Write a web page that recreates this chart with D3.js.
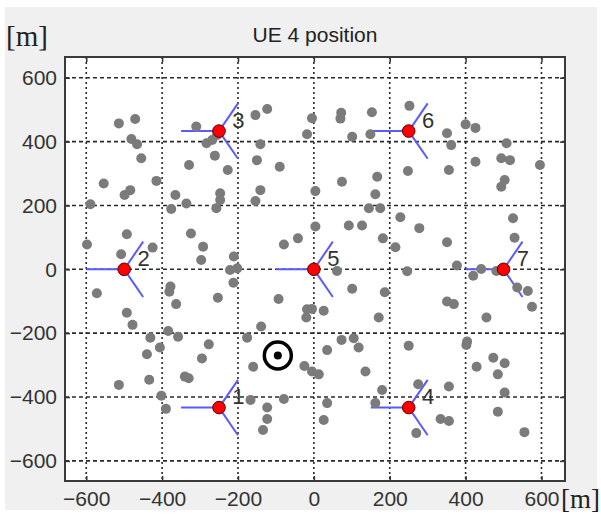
<!DOCTYPE html>
<html>
<head>
<meta charset="utf-8">
<script src="https://cdn.jsdelivr.net/npm/d3@7"></script>
<style>
body { margin: 0; background: #fff; }
text { font-family: "Liberation Sans", Arial, sans-serif; }
</style>
</head>
<body>
<div id="chart"></div>
<script>
var width = 601,
	height = 516;

// base stations (hex layout), labels 1..7
var siteLabels = ["1", "2", "3", "4", "5", "6", "7"];
var siteX = [-250, -500, -250, 250, 0, 250, 500];
var siteY = [-433, 0, 433, -433, 0, 433, 0];
var sectorAngles = [180, 60, -60];
var sectorLength = 100;

// the tracked UE
var targetX = [-95];
var targetY = [-270];

// other UEs [x, y] in metres
var ueX = [-514,-471,-481,-466,-455,-329,-554,-415,-484,-499,-589,-365,-376,-336,-493,-598,-508,-425,-324,
	-310,-283,-268,-255,-261,-227,-154,-123,-141,-150,-90,-141,-154,-247,-247,-257,-292,-297,-211,-221,-202,-212,-79,-42,-5,-18,4,
	72,70,153,101,149,252,248,74,167,162,4,145,175,228,92,127,278,182,215,246,61,
	351,362,400,426,508,356,426,494,517,596,503,494,525,529,351,377,441,420,481,536,564,575,351,369,455,404,402,473,503,429,485,356,503,485,334,356,555,
	-572,-378,-381,-363,-493,-478,-431,-384,-358,-406,-440,-434,-514,-340,-330,-402,-390,
	-253,-93,-18,-20,-139,-176,-277,-295,-160,-25,-167,-79,-123,-123,-134,
	101,187,26,-5,171,73,105,118,35,250,-5,13,136,180,162,275,35,26,270];
var ueY = [457,471,408,392,348,327,269,277,248,233,204,233,189,206,110,78,47,68,112,
	447,395,405,421,356,311,483,502,392,342,321,248,214,238,217,191,71,29,40,-2,3,-42,78,97,473,423,134,
	490,472,492,415,423,512,308,274,290,235,245,191,191,163,137,137,129,97,69,-6,-5,
	426,389,454,443,395,311,337,348,342,327,280,259,160,99,85,12,1,-20,-5,-57,-68,-117,-101,-109,-151,-226,-237,-277,-294,-305,-329,-367,-386,-446,-469,-475,-510,
	-75,-54,-70,-109,-136,-174,-214,-193,-211,-245,-266,-346,-362,-336,-341,-396,-437,
	-89,-93,-125,-151,-179,-214,-235,-279,-305,-303,-409,-406,-433,-469,-503,
	-61,-72,-130,-124,-151,-221,-216,-245,-253,-239,-320,-329,-320,-378,-419,-360,-419,-472,-513];

var xTicks = [-600, -400, -200, 0, 200, 400, 600];
var yTicks = [-600, -400, -200, 0, 200, 400, 600];
var titleText = "UE 4 position";
var unitText = "[m]";

var plotLeft = 65, plotRight = 565, plotTop = 57, plotBottom = 481;

var x = d3.scaleLinear().domain([-656, 662]).range([plotLeft, plotRight]);
var y = d3.scaleLinear().domain([-663, 665]).range([plotBottom, plotTop]);

var svg = d3.select("#chart")
	.append("svg")
	.attr("width", width)
	.attr("height", height);

// figure background
svg.append("rect")
	.attr("x", 5)
	.attr("y", 7)
	.attr("width", 592)
	.attr("height", 503)
	.attr("fill", "#f0f0f0");

// axes background
svg.append("rect")
	.attr("x", plotLeft)
	.attr("y", plotTop)
	.attr("width", plotRight - plotLeft)
	.attr("height", plotBottom - plotTop)
	.attr("fill", "#fff");

// grid
svg.selectAll(".vgrid")
	.data(xTicks)
	.enter()
	.append("line")
	.attr("class", "vgrid")
	.attr("x1", function(d) { return x(d); })
	.attr("x2", function(d) { return x(d); })
	.attr("y1", plotTop)
	.attr("y2", plotBottom)
	.attr("stroke", "#2a2a2a")
	.attr("stroke-width", 1.6)
	.attr("stroke-dasharray", "2,3");

svg.selectAll(".hgrid")
	.data(yTicks)
	.enter()
	.append("line")
	.attr("class", "hgrid")
	.attr("x1", plotLeft)
	.attr("x2", plotRight)
	.attr("y1", function(d) { return y(d); })
	.attr("y2", function(d) { return y(d); })
	.attr("stroke", "#2a2a2a")
	.attr("stroke-width", 1.6)
	.attr("stroke-dasharray", "4,3");

// axes with inward ticks on all sides
var tickLen = 5;
svg.append("g")
	.attr("transform", "translate(0," + plotBottom + ")")
	.call(d3.axisBottom(x).tickValues(xTicks).tickSizeInner(-tickLen).tickSizeOuter(0).tickPadding(10))
	.call(styleAxis);
svg.append("g")
	.attr("transform", "translate(0," + plotTop + ")")
	.call(d3.axisTop(x).tickValues(xTicks).tickSizeInner(-tickLen).tickSizeOuter(0).tickFormat(""))
	.call(styleAxis);
svg.append("g")
	.attr("transform", "translate(" + plotLeft + ",0)")
	.call(d3.axisLeft(y).tickValues(yTicks).tickSizeInner(-tickLen).tickSizeOuter(0).tickPadding(8))
	.call(styleAxis);
svg.append("g")
	.attr("transform", "translate(" + plotRight + ",0)")
	.call(d3.axisRight(y).tickValues(yTicks).tickSizeInner(-tickLen).tickSizeOuter(0).tickFormat(""))
	.call(styleAxis);

function styleAxis(g) {
	g.select(".domain").remove();
	g.selectAll(".tick line").attr("stroke", "#333").attr("stroke-width", 1.5);
	g.selectAll(".tick text")
		.attr("fill", "#333")
		.style("font-size", "21px")
		.style("font-family", "'Liberation Sans', Arial, sans-serif");
}

// axes box
svg.append("rect")
	.attr("x", plotLeft)
	.attr("y", plotTop)
	.attr("width", plotRight - plotLeft)
	.attr("height", plotBottom - plotTop)
	.attr("fill", "none")
	.attr("stroke", "#3a3a3a")
	.attr("stroke-width", 2);

// sector lines
var sites = siteX.map(function(d, i) { return {x: d, y: siteY[i], label: siteLabels[i]}; });
var sectors = [];
sites.forEach(function(s) {
	sectorAngles.forEach(function(a) {
		var r = a * Math.PI / 180;
		sectors.push({x1: s.x, y1: s.y, x2: s.x + sectorLength * Math.cos(r), y2: s.y + sectorLength * Math.sin(r)});
	});
});
svg.selectAll(".sector")
	.data(sectors)
	.enter()
	.append("line")
	.attr("class", "sector")
	.attr("x1", function(d) { return x(d.x1); })
	.attr("y1", function(d) { return y(d.y1); })
	.attr("x2", function(d) { return x(d.x2); })
	.attr("y2", function(d) { return y(d.y2); })
	.attr("stroke", "#5a5aff")
	.attr("stroke-width", 2);

// UEs
svg.selectAll(".ue")
	.data(ueX)
	.enter()
	.append("circle")
	.attr("class", "ue")
	.attr("cx", function(d) { return x(d); })
	.attr("cy", function(d, i) { return y(ueY[i]); })
	.attr("r", 5)
	.attr("fill", "#7b7b7b");

// base stations
svg.selectAll(".site")
	.data(sites)
	.enter()
	.append("circle")
	.attr("class", "site")
	.attr("cx", function(d) { return x(d.x); })
	.attr("cy", function(d) { return y(d.y); })
	.attr("r", 6.3)
	.attr("fill", "#ff0000")
	.attr("stroke", "#5a0000")
	.attr("stroke-width", 1);

svg.selectAll(".siteLabel")
	.data(sites)
	.enter()
	.append("text")
	.attr("class", "siteLabel")
	.attr("x", function(d) { return x(d.x + 35); })
	.attr("y", function(d) { return y(d.y + 35); })
	.attr("dy", "0.36em")
	.attr("fill", "#333")
	.style("font-size", "22px")
	.text(function(d) { return d.label; });

// tracked UE marker
svg.selectAll(".target")
	.data(targetX)
	.enter()
	.append("circle")
	.attr("class", "target")
	.attr("cx", function(d) { return x(d); })
	.attr("cy", function(d, i) { return y(targetY[i]); })
	.attr("r", 13.5)
	.attr("fill", "none")
	.attr("stroke", "#000")
	.attr("stroke-width", 3.5);
svg.selectAll(".targetDot")
	.data(targetX)
	.enter()
	.append("circle")
	.attr("class", "targetDot")
	.attr("cx", function(d) { return x(d); })
	.attr("cy", function(d, i) { return y(targetY[i]); })
	.attr("r", 4)
	.attr("fill", "#000");

// title and units
svg.append("text")
	.attr("x", (plotLeft + plotRight) / 2)
	.attr("y", 42)
	.attr("text-anchor", "middle")
	.attr("fill", "#222")
	.style("font-size", "21px")
	.text(titleText);

svg.append("text")
	.attr("x", 6)
	.attr("y", 46)
	.attr("fill", "#222")
	.style("font-family", "'Liberation Serif', 'Times New Roman', serif")
	.style("font-size", "29px")
	.text(unitText);

svg.append("text")
	.attr("x", 561)
	.attr("y", 508)
	.attr("fill", "#222")
	.style("font-family", "'Liberation Serif', 'Times New Roman', serif")
	.style("font-size", "27px")
	.text(unitText);
</script>
</body>
</html>
